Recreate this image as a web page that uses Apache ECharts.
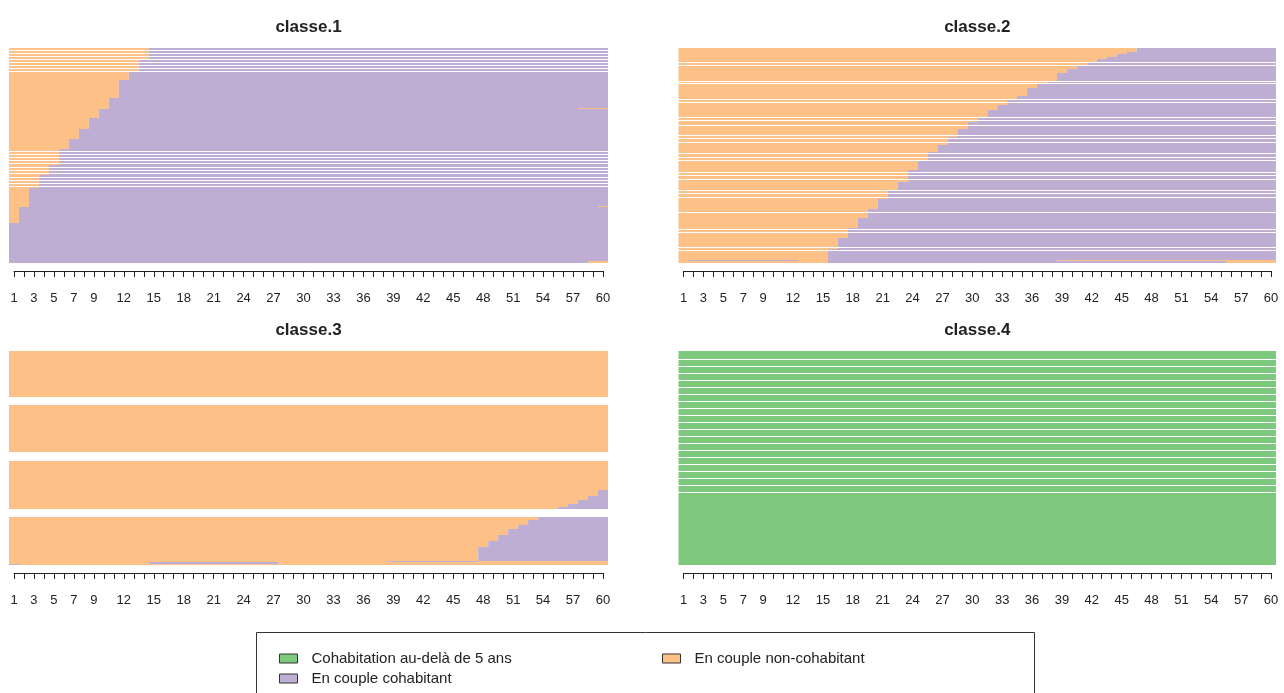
<!DOCTYPE html>
<html>
<head>
<meta charset="utf-8">
<script src="https://cdn.jsdelivr.net/npm/echarts@6/dist/echarts.min.js"></script>
<style>
  html, body { margin: 0; padding: 0; background: #fff; }
  #chart { width: 1284px; height: 693px; }
</style>
</head>
<body>
<div id="chart"></div>
<script>
// months on the time axis and the labels R printed under the ticks
const months = 60;
const tickLabels = [1, 3, 5, 7, 9, 12, 15, 18, 21, 24, 27, 30, 33, 36, 39, 42, 45, 48, 51, 54, 57, 60];
const panelTitles = ['classe.1', 'classe.2', 'classe.3', 'classe.4'];

// states: G = cohabitation > 5 ans, O = non-cohabitant, P = cohabitant
const stateCodes = ['G', 'O', 'P'];
const stateNames = ['Cohabitation au-delà de 5 ans', 'En couple non-cohabitant', 'En couple cohabitant'];

// sequences, top to bottom: [weight, runs] ; runs '' = empty row
const classe1 = [
  [2, 'O14P46'], [1, ''], [2, 'O14P46'], [1, ''], [2, 'O14P46'], [1, ''], [2, 'O14P46'], [1, ''],
  [2, 'O13P47'], [1, ''], [2, 'O13P47'], [1, ''], [2, 'O13P47'], [1, ''], [2, 'O13P47'], [1, ''],
  [8, 'O12P48'], [18, 'O11P49'], [10, 'O10P50'], [1, 'O10P47O3'], [9, 'O9P51'], [11, 'O8P52'],
  [10, 'O7P53'], [10, 'O6P54'],
  [2, 'O5P55'], [1, ''], [2, 'O5P55'], [1, ''], [2, 'O5P55'], [1, ''], [2, 'O5P55'], [1, ''], [2, 'O5P55'], [1, ''], [1, 'O5P55'],
  [2, 'O4P56'], [1, ''], [2, 'O4P56'], [1, ''], [2, 'O4P56'], [1, ''], [1, 'O4P56'],
  [2, 'O3P57'], [1, ''], [2, 'O3P57'], [1, ''], [2, 'O3P57'], [1, ''], [2, 'O3P57'], [1, ''], [1, 'O3P57'],
  [18, 'O2P58'], [1, 'O2P57O1'], [16, 'O1P59'], [38, 'P60'], [2, 'P58O2']
];

const classe2 = [
  [4, 'O46P14'], [2, 'O45P15'], [3, 'O44P16'], [2, 'O43P17'], [3, 'O42P18'], [1, ''], [2, 'O41P19'], [1, ''],
  [3, 'O40P20'], [4, 'O39P21'], [8, 'O38P22'], [1, ''], [1, 'O37P23'], [1, ''], [4, 'O36P24'], [8, 'O35P25'],
  [3, 'O34P26'], [1, ''], [2, 'O33P27'], [1, ''], [2, 'O33P27'], [5, 'O32P28'], [7, 'O31P29'], [1, ''],
  [2, 'O30P30'], [1, ''], [1, 'O30P30'], [3, 'O29P31'], [1, ''], [3, 'O29P31'], [6, 'O28P32'], [1, ''],
  [1, 'O28P32'], [1, 'O27P33'], [1, ''], [3, 'O27P33'], [1, ''], [2, 'O27P33'], [7, 'O26P34'],
  [1, 'O25P35'], [1, ''], [3, 'O25P35'], [1, ''], [2, 'O25P35'], [1, ''], [9, 'O24P36'],
  [2, 'O23P37'], [1, ''], [2, 'O23P37'], [1, ''], [3, 'O23P37'], [1, ''], [2, 'O23P37'], [8, 'O22P38'], [1, ''],
  [2, 'O21P39'], [1, ''], [3, 'O21P39'], [1, ''], [1, 'O21P39'], [10, 'O20P40'], [3, 'O19P41'], [1, ''],
  [5, 'O19P41'], [10, 'O18P42'], [1, 'O17P43'], [1, ''], [2, 'O17P43'], [1, ''], [5, 'O17P43'],
  [9, 'O16P44'], [1, ''], [1, 'O16P44'], [1, 'O15P45'], [1, ''], [9, 'O15P45'],
  [1, 'O1P11O3P23O22'], [2, 'O15P40O5']
];

const classe3 = [
  [46, 'O60'], [8, ''], [47, 'O60'], [9, ''],
  [29, 'O60'], [6, 'O59P1'], [4, 'O58P2'], [4, 'O57P3'], [3, 'O56P4'], [2, 'O55P5'], [8, ''],
  [3, 'O53P7'], [5, 'O52P8'], [4, 'O51P9'], [6, 'O50P10'], [6, 'O49P11'], [6, 'O48P12'], [14, 'O47P13'],
  [1, 'O38P9O13'], [2, 'O14P13O33'], [1, 'P1O59']
];

const classe4 = [
  [8, 'G60'], [1, ''],
  [6, 'G60'], [1, ''], [6, 'G60'], [1, ''], [6, 'G60'], [1, ''], [6, 'G60'], [1, ''], [6, 'G60'], [1, ''],
  [6, 'G60'], [1, ''], [6, 'G60'], [1, ''], [6, 'G60'], [1, ''], [6, 'G60'], [1, ''], [6, 'G60'], [1, ''],
  [6, 'G60'], [1, ''], [6, 'G60'], [1, ''], [6, 'G60'], [1, ''], [6, 'G60'], [1, ''], [6, 'G60'], [1, ''],
  [6, 'G60'], [1, ''], [6, 'G60'], [1, ''], [6, 'G60'], [1, ''], [6, 'G60'], [1, ''],
  [72, 'G60']
];

const panelData = [classe1, classe2, classe3, classe4];

// layout (pixels)
const stateColors = { G: '#7FC97F', O: '#FDC086', P: '#BEAED4' };
const panelBoxes = [
  { left: 9, top: 48, width: 599, height: 215, axisY: 271, tickLeft: 14, tickWidth: 589 },
  { left: 678.5, top: 48, width: 597.5, height: 215, axisY: 271, tickLeft: 683.5, tickWidth: 587.5 },
  { left: 9, top: 351, width: 599, height: 214, axisY: 573, tickLeft: 14, tickWidth: 589 },
  { left: 678.5, top: 351, width: 597.5, height: 214, axisY: 573, tickLeft: 683.5, tickWidth: 587.5 }
];
const font = 'Liberation Sans, Arial, sans-serif';

function segments(rows) {
  // turns the rows into [x0, x1, y0, y1] pieces, one list per state
  const out = { G: [], O: [], P: [] };
  let y = 0;
  rows.forEach(function (row) {
    const h = row[0];
    let x = 0;
    const re = /([GOP])(\d+)/g;
    let m;
    while ((m = re.exec(row[1])) !== null) {
      const len = +m[2];
      out[m[1]].push([x, x + len, y, y + h]);
      x += len;
    }
    y += h;
  });
  return { out: out, total: y };
}

function renderSeg(params, api) {
  const a = api.coord([api.value(0), api.value(2)]);
  const b = api.coord([api.value(1), api.value(3)]);
  return {
    type: 'rect',
    shape: { x: a[0], y: a[1], width: b[0] - a[0], height: b[1] - a[1] },
    style: { fill: api.visual('color') }
  };
}

const grid = [], xAxis = [], yAxis = [], series = [], title = [];

panelBoxes.forEach(function (box, p) {
  const seg = segments(panelData[p]);
  grid.push({ left: box.left, top: box.top, width: box.width, height: box.height });
  xAxis.push({ type: 'value', gridIndex: p, min: 0, max: months, show: false });
  yAxis.push({ type: 'value', gridIndex: p, min: 0, max: seg.total, inverse: true, show: false });
  stateCodes.forEach(function (code, s) {
    series.push({
      type: 'custom',
      name: stateNames[s],
      xAxisIndex: p,
      yAxisIndex: p,
      renderItem: renderSeg,
      itemStyle: { color: stateColors[code] },
      encode: { x: [0, 1], y: [2, 3] },
      data: seg.out[code],
      silent: true
    });
  });
  title.push({
    text: panelTitles[p],
    left: box.left + box.width / 2,
    top: box.top - 29,
    textAlign: 'center',
    padding: 0,
    textStyle: { fontSize: 17, fontWeight: 'bold', color: '#222', fontFamily: font }
  });
});

// separate thin grids carrying the month axes (ticks from 1 to 60)
panelBoxes.forEach(function (box, p) {
  const g = grid.length;
  grid.push({ left: box.tickLeft, top: box.axisY - 1, width: box.tickWidth, height: 1 });
  xAxis.push({
    type: 'value', gridIndex: g, min: 1, max: months, interval: 1,
    axisLine: { show: true, lineStyle: { color: '#222', width: 1 } },
    axisTick: { show: true, length: 6, lineStyle: { color: '#222', width: 1 } },
    splitLine: { show: false },
    axisLabel: {
      margin: 21, fontSize: 13, color: '#222', fontFamily: font,
      formatter: function (v) { return tickLabels.indexOf(v) >= 0 ? String(v) : ''; }
    }
  });
  yAxis.push({ type: 'value', gridIndex: g, show: false });
});

const legendBase = {
  orient: 'vertical', top: 646, itemGap: 5,
  icon: 'rect', itemWidth: 18, itemHeight: 9,
  itemStyle: { borderColor: '#333', borderWidth: 1 },
  textStyle: { fontSize: 15, color: '#222', fontFamily: font, padding: [0, 0, 0, 9] }
};

const chart = echarts.init(document.getElementById('chart'));
chart.setOption({
  animation: false,
  backgroundColor: '#fff',
  title: title,
  grid: grid,
  xAxis: xAxis,
  yAxis: yAxis,
  series: series,
  legend: [
    Object.assign({}, legendBase, { data: [stateNames[0], stateNames[2]], left: 274 }),
    Object.assign({}, legendBase, { data: [stateNames[1]], left: 657 })
  ],
  graphic: [
    {
      type: 'rect', left: 254, top: 630,
      shape: { width: 778, height: 80 },
      style: { fill: 'none', stroke: '#333', lineWidth: 1 }
    }
  ]
});
window.addEventListener('resize', () => { chart.resize(); });
</script>
</body>
</html>
